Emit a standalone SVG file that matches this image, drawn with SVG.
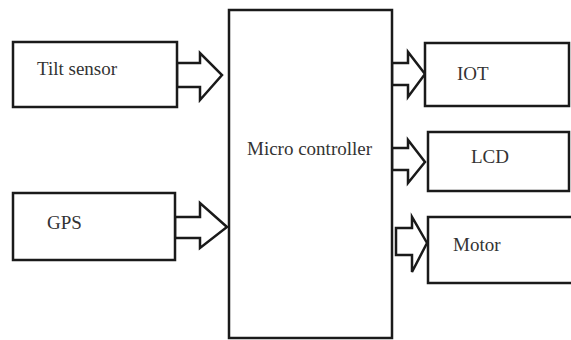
<svg xmlns="http://www.w3.org/2000/svg" width="571" height="340" viewBox="0 0 571 340">
<style>
.box{fill:#fff;stroke:#1a1a1a;stroke-width:2.5}
.arr{fill:#fff;stroke:#1a1a1a;stroke-width:2.5;stroke-linejoin:miter}
.lbl{font-family:"Liberation Serif","Times New Roman",serif;font-size:19px;fill:#333}
</style>
<rect width="571" height="340" fill="#fff"/>
<g id="connectors">
<polygon class="arr" points="177,63 200,63 200,53 222,75 200,100 200,87 177,87"/>
<polygon class="arr" points="175,217 200,217 200,203 227,227 200,248 200,238 175,238"/>
<polygon class="arr" points="392,63 408,63 408,52 425,74 408,97 408,85 392,85"/>
<polygon class="arr" points="392,148 408,148 408,140 425,162 408,183 408,170 392,170"/>
<polygon class="arr" points="396,228 412,228 412,217 427,243 412,272 412,255 396,255"/>
</g>
<g id="tilt">
<rect class="box" x="13" y="42" width="164" height="65"/>
<text class="lbl" x="37" y="75">Tilt sensor</text>
</g>
<g id="gps">
<rect class="box" x="13" y="193" width="162" height="67"/>
<text class="lbl" x="47" y="229">GPS</text>
</g>
<g id="micro">
<rect class="box" x="229" y="10" width="163" height="328"/>
<text class="lbl" x="247" y="155">Micro controller</text>
</g>
<g id="iot">
<rect class="box" x="425" y="43" width="144" height="63"/>
<text class="lbl" x="457" y="80">IOT</text>
</g>
<g id="lcd">
<rect class="box" x="428" y="132" width="141" height="59"/>
<text class="lbl" x="471" y="163">LCD</text>
</g>
<g id="motor">
<rect class="box" x="428" y="217" width="150" height="66"/>
<text class="lbl" x="453" y="251">Motor</text>
</g>
</svg>
